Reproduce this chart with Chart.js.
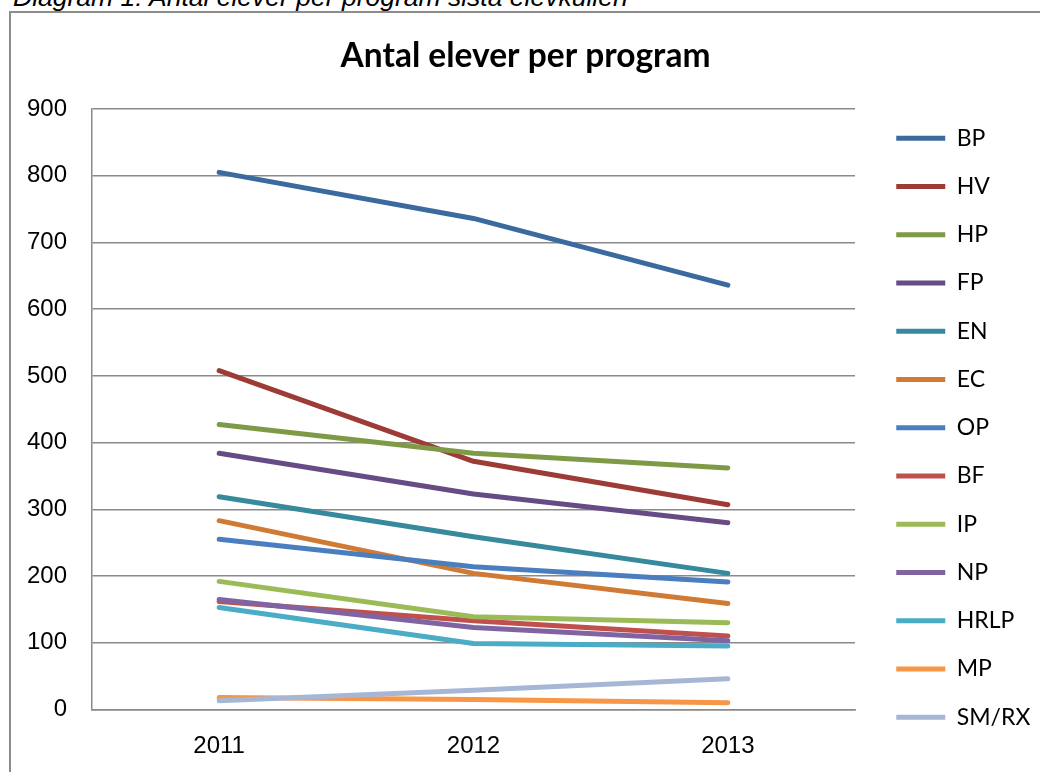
<!DOCTYPE html>
<html>
<head>
<meta charset="utf-8">
<script src="https://cdn.jsdelivr.net/npm/chart.js@4.4.1/dist/chart.umd.min.js"></script>
<style>
  html, body { margin: 0; padding: 0; background: #fff; overflow: hidden; width: 1040px; height: 772px; }
  #caption {
    position: absolute; left: 13px; top: -16.4px;
    font: italic 26.5px "Liberation Sans", Arial, sans-serif; line-height: 1;
    white-space: nowrap; color: #000;
  }
  #frame {
    position: absolute; left: 9px; top: 11px; width: 1100px; height: 900px;
    border: 2px solid #8c8c8c; box-sizing: border-box;
  }
  #wrap { position: absolute; left: 0; top: 0; width: 1036px; height: 860px; }
</style>
</head>
<body>
<div id="caption">Diagram 1: Antal elever per program sista elevkullen</div>
<div id="frame"></div>
<div id="wrap"><canvas id="program-chart"></canvas></div>
<script>
// years on the x axis
const years = ["2011", "2012", "2013"];
const yTicks = [0, 100, 200, 300, 400, 500, 600, 700, 800, 900];

// number of students per program
const BP   = [805, 736, 636];
const HV   = [508, 372, 307];
const HP   = [427, 384, 362];
const FP   = [384, 323, 280];
const EN   = [319, 259, 204];
const EC   = [283, 204, 159];
const OP   = [255, 214, 191];
const BF   = [162, 133, 110];
const IP   = [192, 139, 130];
const NP   = [165, 123, 103];
const HRLP = [153, 99, 95];
const MP   = [18, 15, 10];
const SMRX = [13, 29, 46];

const programs = ["BP", "HV", "HP", "FP", "EN", "EC", "OP", "BF", "IP", "NP", "HRLP", "MP", "SM/RX"];
const series = [BP, HV, HP, FP, EN, EC, OP, BF, IP, NP, HRLP, MP, SMRX];

const lineColors = ["#3b6a9f", "#9d3b37", "#7f9a46", "#664b84", "#378a9c", "#d07a34",
                    "#4a7ebf", "#c0504d", "#9bbb59", "#8064a2", "#4bacc6", "#f79646", "#a6b7d6"];

(function () {
    'use strict'

    Chart.defaults.font.family = "Lato";
    Chart.defaults.color = "#000";

    const gridColor = "#8a8a8a";
    const tickFont = { family: "Liberation Sans", size: 24 };

    let canvas = document.getElementById("program-chart");
    let config = {
        type: "line",
        data: {
            labels: years,
            datasets: series.map((vals, i) => ({
                label: programs[i],
                data: vals,
                borderColor: lineColors[i],
                backgroundColor: lineColors[i],
                borderWidth: 5,
                borderCapStyle: "round",
                borderJoinStyle: "round",
                pointRadius: 0,
                pointHoverRadius: 0,
                pointStyle: "line",
                tension: 0,
                // later series are painted on top, like the original
                order: -i
            }))
        },
        options: {
            responsive: true,
            maintainAspectRatio: false,
            animation: false,
            layout: {
                padding: { left: 15, right: 0, top: 0, bottom: 4.4 }
            },
            plugins: {
                title: {
                    display: true,
                    text: "Antal elever per program",
                    color: "#000",
                    font: { family: "Lato", size: 33.5, weight: "bold" },
                    padding: { top: 35.9, bottom: 32.9 }
                },
                legend: {
                    position: "right",
                    maxWidth: 165,
                    labels: {
                        usePointStyle: true,
                        pointStyleWidth: 49,
                        padding: 25.25,
                        color: "#000",
                        font: { family: "Lato", size: 23 },
                        sort: (a, b) => a.datasetIndex - b.datasetIndex
                    }
                },
                tooltip: { enabled: false }
            },
            scales: {
                x: {
                    offset: true,
                    grid: { display: false, drawTicks: false },
                    border: { display: true, color: gridColor, width: 1.5 },
                    ticks: { padding: 22, font: tickFont, color: "#000" },
                    afterFit: s => { s.height = 146.1 }
                },
                y: {
                    min: 0,
                    max: 900,
                    afterBuildTicks: s => { s.ticks = yTicks.map(v => ({ value: v })) },
                    grid: { color: gridColor, lineWidth: 1.5, drawTicks: false },
                    border: { display: true, color: gridColor, width: 1.5 },
                    ticks: { padding: 25, font: tickFont, color: "#000" },
                    afterFit: s => { s.width = 77 }
                },
                gap: {
                    type: "linear",
                    position: "right",
                    grid: { display: false, drawTicks: false },
                    border: { display: false },
                    ticks: { display: false },
                    afterFit: s => { s.width = 16 }
                }
            }
        }
    };

    let chart = new Chart(canvas, config);
})()
</script>
</body>
</html>
